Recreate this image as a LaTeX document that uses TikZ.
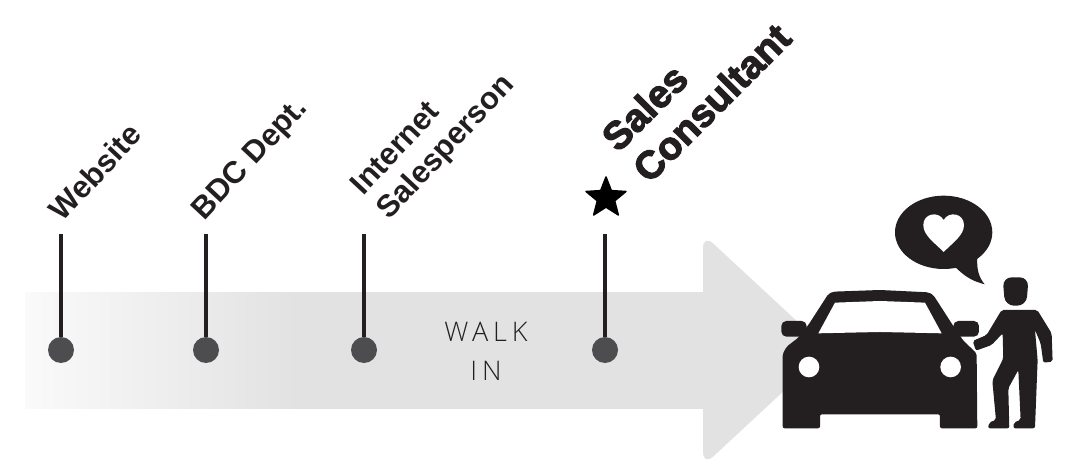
\documentclass[tikz,border=0pt]{standalone}
\usepackage{fontspec}
\setmainfont{Liberation Sans}
\newfontfamily\walkfont[LetterSpace=18]{Open Sans Light}
\newfontfamily\heavyfont[BoldFeatures={FakeBold=3}]{Liberation Sans}
\usetikzlibrary{shapes}
\definecolor{flowgray}{HTML}{E2E2E3}
\definecolor{flowlight}{HTML}{FAFAFA}
\definecolor{inkdark}{HTML}{231F20}
\definecolor{dotgray}{HTML}{4D4D4F}
\pgfdeclarehorizontalshading{shaftfade}{100bp}{color(0bp)=(flowlight); color(25bp)=(flowlight); color(45bp)=(flowgray); color(100bp)=(flowgray)}

\begin{document}
\begin{tikzpicture}[x=1pt,y=-1pt]
		\tikzstyle{stop}=[circle,fill=dotgray,inner sep=0pt,minimum size=26pt]
		\tikzstyle{stem}=[draw=inkdark,line width=3.2pt]
		\tikzstyle{label}=[rotate=47,align=left,text=inkdark,font=\bfseries\fontsize{31}{36}\selectfont]
		\useasboundingbox (0,0) rectangle (1074,468);

		% arrow
		\shade[shading=shaftfade] (25,292) rectangle (704,408);
		\fill[flowgray,rounded corners=14pt] (703,234) -- (703,466) -- (828,350) -- cycle;

		\node[stop] (website) at (61,350) {};
		\node[stop] (bdc) at (206,350) {};
		\node[stop] (internet) at (364,350) {};
		\node[stop] (sales) at (605,350) {};

		\coordinate (websitetop) at (61,234);
		\coordinate (bdctop) at (206,234);
		\coordinate (internettop) at (364,234);
		\coordinate (salestop) at (605,234);

		\draw[stem] (website) -- (websitetop);
		\draw[stem] (bdc) -- (bdctop);
		\draw[stem] (internet) -- (internettop);
		\draw[stem] (sales) -- (salestop);

		\node[label] (websitetext) at (95,172) {Website};
		\node[label] (bdctext) at (251,160) {BDC Dept.};
		\node[label] (internettext) at (434,136) {Internet\\Salesperson};
		\node[rotate=45,align=left,text=inkdark,font=\heavyfont\bfseries\fontsize{39}{44}\selectfont] (salestext) at (696,87) {Sales\\Consultant};

		\node[align=center,text=inkdark,font=\walkfont\fontsize{27}{39}\selectfont] (walk) at (486,351) {WALK\\IN};

		\node[star,star points=5,star point ratio=2.3,fill=black,draw=black,line join=round,line width=1.5pt,inner sep=0pt,minimum size=42pt] (favourite) at (606,198) {};

		% car, person and speech bubble, in zoomed units
		\begin{scope}[shift={(760,170)},x=0.3333pt,y=-0.3333pt]
		\fill[inkdark,rounded corners=2pt] (68,775) -- (68,552) -- (80,530) -- (115,503) -- (145,465) -- (205,372) -- (220,365) -- (360,360) -- (505,367) -- (520,375) -- (578,465) -- (610,512) -- (650,550) -- (652,775) -- (540,775) -- (540,733) -- (180,733) -- (180,775) -- cycle;
		\fill[inkdark,rounded corners=5pt] (64,453) rectangle (140,500);
		\fill[inkdark,rounded corners=5pt] (580,453) rectangle (657,500);
		\fill[white] (175,490) -- (225,398) -- (360,393) -- (495,398) -- (545,490) -- (360,486) -- cycle;
		\fill[white] (147,591) circle (31);
		\fill[white] (572,591) circle (31);
		% person
		\fill[inkdark,rounded corners=9pt] (728,322) -- (806,322) -- (799,407) -- (735,407) -- cycle;
		\fill[inkdark,rounded corners=2pt] (725,420) -- (832,420) -- (875,490) -- (878,575) -- (850,578) -- (842,520) -- (825,480) -- (833,570) -- (825,775) -- (760,775) -- (762,757) -- (782,750) -- (775,600) -- (745,655) -- (748,775) -- (684,775) -- (688,757) -- (708,750) -- (697,632) -- (730,565) -- (728,490) -- (695,525) -- (648,542) -- (638,513) -- (680,495) -- cycle;
		% bubble
		\fill[inkdark] (551,187) ellipse [x radius=146,y radius=110];
		\fill[inkdark] (575,290) -- (590,295) .. controls (620,325) and (645,335) .. (674,343) .. controls (655,320) and (650,295) .. (652,262) -- cycle;
		\fill[white] (551,246) .. controls (520,215) and (490,195) .. (490,165) .. controls (490,130) and (535,122) .. (551,150) .. controls (567,122) and (612,130) .. (612,165) .. controls (612,195) and (582,215) .. (551,246) -- cycle;
		\end{scope}
\end{tikzpicture}
\end{document}
